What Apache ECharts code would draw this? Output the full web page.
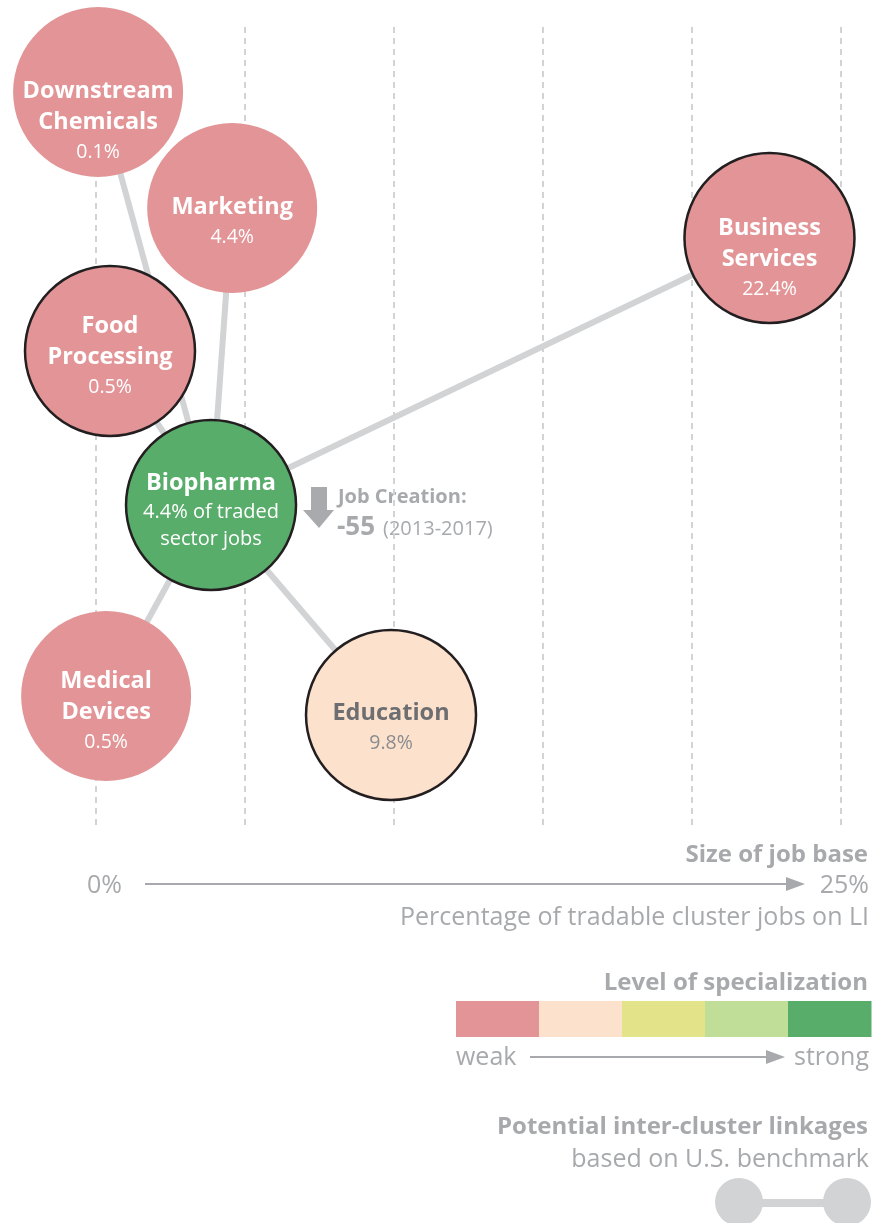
<!DOCTYPE html>
<html>
<head>
<meta charset="utf-8">
<script src="https://cdn.jsdelivr.net/npm/echarts@6/dist/echarts.min.js"></script>
<style>
  html, body { margin: 0; padding: 0; background: #fff; }
  #chart { width: 886px; height: 1223px; }
</style>
</head>
<body>
<div id="chart"></div>
<script>
// clusters linked to Biopharma (last one is the focus cluster)
const clusters = ['Downstream\nChemicals', 'Marketing', 'Food\nProcessing', 'Business\nServices', 'Medical\nDevices', 'Education', 'Biopharma'];
const jobShare = ['0.1%', '4.4%', '0.5%', '22.4%', '0.5%', '9.8%', '4.4%'];
// where each bubble sits on the 0-25% axis
const xPos = [0.07, 4.57, 0.47, 22.6, 0.34, 9.9, 3.86];
// vertical placement (layout only, page px)
const yPos = [92, 208, 351, 238, 696, 715, 505];
// 0 = weak ... 4 = strong
const specLevel = [0, 0, 0, 0, 0, 1, 4];
const outlined = [false, false, true, true, false, true, true];
const xTicks = [0, 5, 10, 15, 20, 25];
const jobCreation = -55;
const jobPeriod = '(2013-2017)';

const specColors = ['#E29496', '#FCE1CC', '#E3E48A', '#C1DE99', '#59AD6B'];
const grey = '#A7A9AC';
const FONT = '"Open Sans", "DejaVu Sans", sans-serif';
const focus = clusters.length - 1;

// label nudges so text sits where it does in the original
const labelDy = [29, 14, 5, 20, 15, 13, 5];

const chart = echarts.init(document.getElementById('chart'));

const nodes = clusters.map((name, i) => {
  const dark = specLevel[i] === 1;
  let text;
  if (i === focus) {
    text = '{t|' + name + '}\n{s|' + jobShare[i] + ' of traded}\n{s|sector jobs}';
  } else {
    text = name.split('\n').map(l => '{t|' + l + '}').join('\n') + '\n{p|' + jobShare[i] + '}';
  }
  return {
    id: String(i),
    name: name,
    value: [xPos[i], yPos[i]],
    itemStyle: {
      color: specColors[specLevel[i]],
      borderColor: '#231F20',
      borderWidth: outlined[i] ? 2.5 : 0
    },
    label: {
      show: true,
      position: 'inside',
      offset: [0, labelDy[i]],
      formatter: text,
      rich: {
        t: { fontFamily: FONT, fontWeight: 'bold', fontSize: 23.5, lineHeight: 31, color: dark ? '#6D6E71' : '#fff', align: 'center' },
        p: { fontFamily: FONT, fontSize: 19.5, lineHeight: 29, color: dark ? '#8A8C8F' : '#fff', align: 'center' },
        s: { fontFamily: FONT, fontSize: 20, lineHeight: 27, color: '#fff', align: 'center' }
      }
    }
  };
});

const links = clusters.slice(0, focus).map((_, i) => ({ source: String(i), target: String(focus) }));

// legend pieces
const graphics = [];
function txt(text, x, y, opts) {
  graphics.push({
    type: 'text', x: x, y: y, silent: true,
    style: Object.assign({ text: text, fill: grey, font: '25px ' + FONT, textAlign: 'right', textVerticalAlign: 'middle' }, opts || {})
  });
}
function arrow(x1, x2, y) {
  graphics.push({ type: 'line', silent: true, shape: { x1: x1, y1: y, x2: x2 - 16, y2: y }, style: { stroke: grey, lineWidth: 2 } });
  graphics.push({ type: 'polygon', silent: true, shape: { points: [[x2 - 19, y - 7], [x2, y], [x2 - 19, y + 7]] }, style: { fill: grey } });
}

// job creation note next to Biopharma
graphics.push({
  type: 'polygon', silent: true,
  shape: { points: [[311, 487], [327, 487], [327, 510], [334, 510], [319, 528], [303, 510], [311, 510]] },
  style: { fill: '#A8AAAD' }
});
txt('Job Creation:', 338, 497, { textAlign: 'left', font: 'bold 20px ' + FONT });
txt(String(jobCreation), 337, 528, { textAlign: 'left', font: 'bold 26px ' + FONT });
txt(jobPeriod, 383, 529, { textAlign: 'left', font: '20px ' + FONT });

// size of job base
txt('Size of job base', 868, 855, { font: 'bold 24px ' + FONT });
txt(xTicks[0] + '%', 122, 886);
arrow(145, 805, 884);
txt(xTicks[xTicks.length - 1] + '%', 869, 886);
txt('Percentage of tradable cluster jobs on LI', 869, 918);

// specialization scale
txt('Level of specialization', 868, 983, { font: 'bold 24px ' + FONT });
const barX = 456, barW = 415 / specColors.length;
specColors.forEach((c, i) => {
  graphics.push({ type: 'rect', silent: true, shape: { x: barX + i * barW, y: 1001, width: barW + 0.5, height: 36 }, style: { fill: c } });
});
txt('weak', 456, 1058, { textAlign: 'left' });
arrow(530, 785, 1057);
txt('strong', 869, 1058);

// linkage key
txt('Potential inter-cluster linkages', 868, 1127, { font: 'bold 24px ' + FONT });
txt('based on U.S. benchmark', 869, 1160);
graphics.push({ type: 'line', silent: true, shape: { x1: 739, y1: 1203, x2: 847, y2: 1203 }, style: { stroke: '#D1D3D4', lineWidth: 8 } });
graphics.push({ type: 'circle', silent: true, shape: { cx: 739, cy: 1202, r: 24 }, style: { fill: '#D1D3D4' } });
graphics.push({ type: 'circle', silent: true, shape: { cx: 847, cy: 1202, r: 24 }, style: { fill: '#D1D3D4' } });

const option = {
  animation: false,
  grid: { left: 96, right: 45, top: 27, bottom: 395 },
  xAxis: {
    type: 'value',
    min: xTicks[0],
    max: xTicks[xTicks.length - 1],
    interval: 5,
    axisLine: { show: false },
    axisTick: { show: false },
    axisLabel: { show: false },
    splitLine: { show: true, lineStyle: { color: '#D1D3D4', width: 2, type: [6, 5] } }
  },
  yAxis: {
    type: 'value',
    min: 27,
    max: 828,
    inverse: true,
    show: false,
    splitLine: { show: false }
  },
  series: [{
    type: 'graph',
    coordinateSystem: 'cartesian2d',
    layout: 'none',
    symbol: 'circle',
    symbolSize: 170,
    data: nodes,
    links: links,
    edgeSymbol: ['none', 'none'],
    lineStyle: { color: '#D1D3D4', width: 6, opacity: 1, curveness: 0 },
    emphasis: { disabled: true },
    z: 2
  }],
  graphic: graphics
};

chart.setOption(option);
</script>
</body>
</html>
